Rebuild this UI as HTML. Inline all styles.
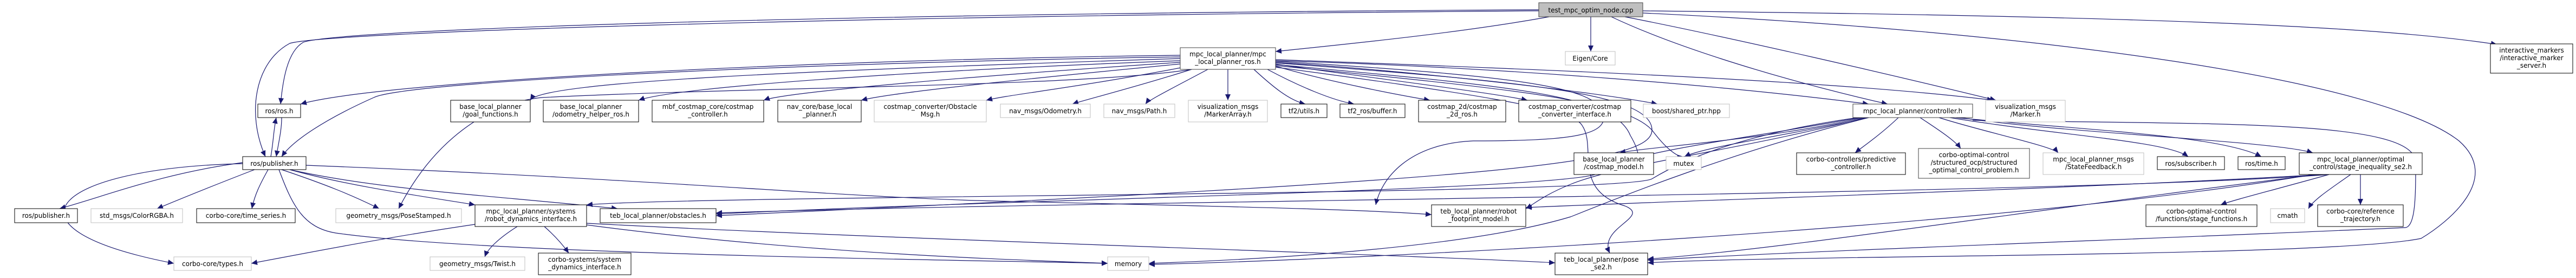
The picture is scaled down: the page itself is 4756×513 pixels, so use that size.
<!DOCTYPE html>
<html><head><meta charset="utf-8">
<style>
html,body{margin:0;padding:0;background:#fff;}
svg{display:block;}
text{font-family:"DejaVu Sans","Liberation Sans",sans-serif;font-size:12px;fill:#000;}
</style></head>
<body>
<svg id="g" width="4756" height="513" viewBox="0 0 4756 513" xmlns="http://www.w3.org/2000/svg">
<defs>
<marker id="a" markerUnits="userSpaceOnUse" markerWidth="12" markerHeight="10" refX="11" refY="5" orient="auto">
<path d="M0,0 L11,5 L0,10 z" fill="#191970"/>
</marker>
</defs>
<g id="edges" fill="none" stroke="#191970" stroke-width="1.2"></g>
<g id="nodes">
<rect x="2841" y="5" width="192" height="26" fill="#bfbfbf" stroke="#404040"/><text x="2937" y="23" text-anchor="middle">test_mpc_optim_node.cpp</text>
<rect x="476" y="192" width="79" height="25" fill="#fff" stroke="#000"/><text x="515.5" y="209" text-anchor="middle">ros/ros.h</text>
<rect x="448" y="289" width="117" height="24" fill="#fff" stroke="#000"/><text x="506.5" y="306" text-anchor="middle">ros/publisher.h</text>
<rect x="27" y="385" width="116" height="26" fill="#fff" stroke="#000"/><text x="85" y="402" text-anchor="middle">ros/publisher.h</text>
<rect x="168" y="385" width="169" height="26" fill="#fff" stroke="#bfbfbf"/><text x="252.5" y="402" text-anchor="middle">std_msgs/ColorRGBA.h</text>
<rect x="363" y="385" width="182" height="26" fill="#fff" stroke="#000"/><text x="454" y="402" text-anchor="middle">corbo-core/time_series.h</text>
<rect x="620" y="385" width="232" height="26" fill="#fff" stroke="#bfbfbf"/><text x="736" y="402" text-anchor="middle">geometry_msgs/PoseStamped.h</text>
<rect x="877" y="378" width="206" height="40" fill="#fff" stroke="#000"/><text x="980" y="394" text-anchor="middle">mpc_local_planner/systems</text><text x="980" y="408" text-anchor="middle">/robot_dynamics_interface.h</text>
<rect x="1108" y="385" width="214" height="26" fill="#fff" stroke="#000"/><text x="1215" y="402" text-anchor="middle">teb_local_planner/obstacles.h</text>
<rect x="321" y="474" width="143" height="25" fill="#fff" stroke="#bfbfbf"/><text x="392.5" y="491" text-anchor="middle">corbo-core/types.h</text>
<rect x="794" y="474" width="175" height="25" fill="#fff" stroke="#bfbfbf"/><text x="881.5" y="491" text-anchor="middle">geometry_msgs/Twist.h</text>
<rect x="994" y="467" width="171" height="40" fill="#fff" stroke="#000"/><text x="1079.5" y="483" text-anchor="middle">corbo-systems/system</text><text x="1079.5" y="497" text-anchor="middle">_dynamics_interface.h</text>
<rect x="832" y="185" width="147" height="40" fill="#fff" stroke="#000"/><text x="905.5" y="201" text-anchor="middle">base_local_planner</text><text x="905.5" y="215" text-anchor="middle">/goal_functions.h</text>
<rect x="1003" y="185" width="176" height="40" fill="#fff" stroke="#000"/><text x="1091" y="201" text-anchor="middle">base_local_planner</text><text x="1091" y="215" text-anchor="middle">/odometry_helper_ros.h</text>
<rect x="1204" y="185" width="206" height="40" fill="#fff" stroke="#000"/><text x="1307" y="201" text-anchor="middle">mbf_costmap_core/costmap</text><text x="1307" y="215" text-anchor="middle">_controller.h</text>
<rect x="1436" y="185" width="154" height="40" fill="#fff" stroke="#000"/><text x="1513" y="201" text-anchor="middle">nav_core/base_local</text><text x="1513" y="215" text-anchor="middle">_planner.h</text>
<rect x="1614" y="185" width="207" height="40" fill="#fff" stroke="#bfbfbf"/><text x="1717.5" y="201" text-anchor="middle">costmap_converter/Obstacle</text><text x="1717.5" y="215" text-anchor="middle">Msg.h</text>
<rect x="1847" y="192" width="166" height="25" fill="#fff" stroke="#bfbfbf"/><text x="1930" y="209" text-anchor="middle">nav_msgs/Odometry.h</text>
<rect x="2038" y="192" width="131" height="25" fill="#fff" stroke="#bfbfbf"/><text x="2103.5" y="209" text-anchor="middle">nav_msgs/Path.h</text>
<rect x="2194" y="185" width="146" height="40" fill="#fff" stroke="#bfbfbf"/><text x="2267" y="201" text-anchor="middle">visualization_msgs</text><text x="2267" y="215" text-anchor="middle">/MarkerArray.h</text>
<rect x="2365" y="192" width="85" height="25" fill="#fff" stroke="#000"/><text x="2407.5" y="209" text-anchor="middle">tf2/utils.h</text>
<rect x="2179" y="88" width="176" height="40" fill="#fff" stroke="#404040"/><text x="2267" y="104" text-anchor="middle">mpc_local_planner/mpc</text><text x="2267" y="118" text-anchor="middle">_local_planner_ros.h</text>
<rect x="2045" y="474" width="76" height="25" fill="#fff" stroke="#bfbfbf"/><text x="2083" y="491" text-anchor="middle">memory</text>
<rect x="2890" y="95" width="92" height="25" fill="#fff" stroke="#bfbfbf"/><text x="2936" y="112" text-anchor="middle">Eigen/Core</text>
<rect x="2474" y="192" width="120" height="25" fill="#fff" stroke="#000"/><text x="2534" y="209" text-anchor="middle">tf2_ros/buffer.h</text>
<rect x="2619" y="185" width="161" height="40" fill="#fff" stroke="#000"/><text x="2699.5" y="201" text-anchor="middle">costmap_2d/costmap</text><text x="2699.5" y="215" text-anchor="middle">_2d_ros.h</text>
<rect x="2804" y="185" width="207" height="40" fill="#fff" stroke="#000"/><text x="2907.5" y="201" text-anchor="middle">costmap_converter/costmap</text><text x="2907.5" y="215" text-anchor="middle">_converter_interface.h</text>
<rect x="3034" y="192" width="159" height="25" fill="#fff" stroke="#bfbfbf"/><text x="3113.5" y="209" text-anchor="middle">boost/shared_ptr.hpp</text>
<rect x="3421" y="192" width="221" height="25" fill="#fff" stroke="#404040"/><text x="3531.5" y="209" text-anchor="middle">mpc_local_planner/controller.h</text>
<rect x="2906" y="282" width="147" height="40" fill="#fff" stroke="#000"/><text x="2979.5" y="298" text-anchor="middle">base_local_planner</text><text x="2979.5" y="312" text-anchor="middle">/costmap_model.h</text>
<rect x="3076" y="289" width="65" height="24" fill="#fff" stroke="#bfbfbf"/><text x="3108.5" y="306" text-anchor="middle">mutex</text>
<rect x="3317" y="282" width="201" height="40" fill="#fff" stroke="#000"/><text x="3417.5" y="298" text-anchor="middle">corbo-controllers/predictive</text><text x="3417.5" y="312" text-anchor="middle">_controller.h</text>
<rect x="3542" y="274" width="205" height="55" fill="#fff" stroke="#404040"/><text x="3644.5" y="290" text-anchor="middle">corbo-optimal-control</text><text x="3644.5" y="304" text-anchor="middle">/structured_ocp/structured</text><text x="3644.5" y="318" text-anchor="middle">_optimal_control_problem.h</text>
<rect x="2643" y="378" width="174" height="40" fill="#fff" stroke="#000"/><text x="2730" y="394" text-anchor="middle">teb_local_planner/robot</text><text x="2730" y="408" text-anchor="middle">_footprint_model.h</text>
<rect x="2871" y="467" width="171" height="40" fill="#fff" stroke="#000"/><text x="2956.5" y="483" text-anchor="middle">teb_local_planner/pose</text><text x="2956.5" y="497" text-anchor="middle">_se2.h</text>
<rect x="3666" y="185" width="147" height="40" fill="#fff" stroke="#bfbfbf"/><text x="3739.5" y="201" text-anchor="middle">visualization_msgs</text><text x="3739.5" y="215" text-anchor="middle">/Marker.h</text>
<rect x="4598" y="81" width="152" height="54" fill="#fff" stroke="#000"/><text x="4674" y="97" text-anchor="middle">interactive_markers</text><text x="4674" y="111" text-anchor="middle">/interactive_marker</text><text x="4674" y="125" text-anchor="middle">_server.h</text>
<rect x="3772" y="282" width="186" height="40" fill="#fff" stroke="#bfbfbf"/><text x="3865" y="298" text-anchor="middle">mpc_local_planner_msgs</text><text x="3865" y="312" text-anchor="middle">/StateFeedback.h</text>
<rect x="3983" y="289" width="124" height="24" fill="#fff" stroke="#000"/><text x="4045" y="306" text-anchor="middle">ros/subscriber.h</text>
<rect x="4132" y="289" width="87" height="24" fill="#fff" stroke="#000"/><text x="4175.5" y="306" text-anchor="middle">ros/time.h</text>
<rect x="4245" y="282" width="227" height="40" fill="#fff" stroke="#000"/><text x="4358.5" y="298" text-anchor="middle">mpc_local_planner/optimal</text><text x="4358.5" y="312" text-anchor="middle">_control/stage_inequality_se2.h</text>
<rect x="3962" y="378" width="205" height="40" fill="#fff" stroke="#000"/><text x="4064.5" y="394" text-anchor="middle">corbo-optimal-control</text><text x="4064.5" y="408" text-anchor="middle">/functions/stage_functions.h</text>
<rect x="4192" y="385" width="63" height="26" fill="#fff" stroke="#bfbfbf"/><text x="4223.5" y="402" text-anchor="middle">cmath</text>
<rect x="4279" y="378" width="158" height="40" fill="#fff" stroke="#000"/><text x="4358" y="394" text-anchor="middle">corbo-core/reference</text><text x="4358" y="408" text-anchor="middle">_trajectory.h</text>
</g>
</svg>
<script>
var P=[
// test node
"M2841,18 C1500,25 620,55 560,78 C530,95 522,150 518,192",
"M2841,20 C1500,30 600,60 535,80 C470,115 455,210 490,289",
"M2937,31 L2937,95",
"M2860,31 C2700,60 2500,80 2355,95",
"M2975,31 C3100,90 3300,150 3485,192",
"M3000,31 C3200,70 3500,140 3685,185",
"M3033,20 C4000,30 4400,50 4610,82",
"M3033,24 C3800,60 4400,150 4540,260 C4620,330 4520,410 4470,440 C4300,475 3300,470 3042,485",
// ros_h
"M2179,102 C1500,110 700,150 555,192",
"M2179,105 C1500,115 750,150 690,180 C600,220 540,260 520,289",
"M2179,108 C1500,130 1000,150 979,185",
"M2179,112 C1700,130 1250,160 1179,185",
"M2179,115 C1800,140 1450,170 1410,185",
"M2179,118 C1900,145 1650,170 1590,185",
"M2185,124 C2000,160 1860,175 1821,185",
"M2200,128 C2100,160 2000,185 1980,192",
"M2230,128 C2170,160 2120,185 2115,192",
"M2267,128 L2267,185",
"M2315,128 C2350,160 2380,185 2410,192",
"M2340,128 C2400,160 2460,185 2500,192",
"M2355,122 C2450,150 2580,175 2640,185",
"M2355,118 C2500,140 2750,170 2820,185",
"M2355,115 C2600,130 2950,170 3060,192",
"M2355,112 C2800,125 3200,160 3450,192",
"M2355,110 C2900,130 3400,150 3680,185",
"M2355,113 C2800,140 2950,160 2960,210 C2970,250 2900,260 2720,260 C2600,265 2550,330 2540,378",
"M2355,116 C2800,150 3050,170 3050,240 C3050,300 2800,330 1322,398",
"M2355,119 C2800,160 2980,175 3010,250 C3040,300 3020,320 2985,282",
"M2355,121 C2800,165 3000,185 3050,240 C3080,280 3100,290 3108,289",
"M2355,124 C2700,170 2900,200 2920,230 C2950,270 2900,350 3000,380 C3050,400 2950,420 2972,467",
"M2200,128 C2000,160 1400,160 1000,180 C900,190 800,260 736,385",
// ctrl
"M3440,217 C3250,260 3050,270 2990,282",
"M3450,217 C3300,250 3150,270 3110,289",
"M3505,217 C3470,250 3440,270 3425,282",
"M3545,217 C3580,240 3610,260 3620,274",
"M3580,217 C3650,240 3790,270 3800,282",
"M3600,217 C3800,250 4000,260 4040,289",
"M3610,217 C3850,240 4100,250 4175,289",
"M3620,217 C3800,245 4200,260 4270,282",
"M3430,217 C3200,250 3100,300 3050,330 C3000,360 1300,360 1083,378",
"M3435,217 C3200,260 3000,280 2950,320 C2900,350 1800,370 1322,395",
"M3445,217 C3200,280 3000,300 2900,340 C2850,360 2830,378 2817,385",
"M3450,217 C3200,280 3000,360 2900,400 C2700,460 2300,480 2121,486",
"M3642,222 C4100,230 4460,220 4460,300 C4460,360 4460,420 4440,420 C4000,440 3400,460 3042,480",
// publisher
"M500,289 C505,260 505,240 510,217",
"M520,217 C520,240 515,260 510,289",
"M448,300 C300,320 200,360 110,385",
"M470,313 C400,340 350,360 290,385",
"M495,313 C480,340 470,360 465,385",
"M520,313 C600,340 650,360 700,385",
"M535,313 C650,345 800,365 877,378",
"M535,313 C700,350 900,360 1140,385",
"M565,305 C1200,330 1500,360 1800,370 C2200,380 2500,385 2643,396",
"M448,302 C100,310 -20,420 321,486",
"M515,313 C540,380 560,420 620,430 C900,470 1800,480 2045,486",
// rdi
"M877,414 C700,440 550,470 464,486",
"M955,418 C920,440 900,460 895,474",
"M1005,418 C1030,440 1045,460 1050,467",
"M1083,415 C1500,470 1900,480 2045,486",
"M1083,412 C1600,440 2600,470 2871,485",
// sis
"M4300,322 C4200,350 4120,370 4100,378",
"M4340,322 C4300,350 4270,370 4262,385",
"M4358,322 L4358,378",
"M4300,322 C3800,360 2000,370 1322,393",
"M4290,322 C3800,350 3100,370 2817,383",
"M4280,322 C3800,380 3300,460 3042,478",
"M4270,322 C3700,420 2500,480 2121,488"
];
var g=document.getElementById("edges");
P.forEach(function(d){var p=document.createElementNS("http://www.w3.org/2000/svg","path");p.setAttribute("d",d);p.setAttribute("marker-end","url(#a)");g.appendChild(p);});
</script>
</body></html>
